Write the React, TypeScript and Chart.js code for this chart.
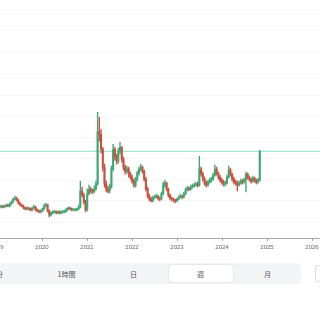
import React, { useEffect, useRef } from "react";
import { Chart, registerables } from "chart.js";

Chart.register(...registerables);

// Bi-weekly candle series (start position and spacing in fractional years)
const START_YEAR = 2019.089;
const STEP_YEARS = 14 / 365.25;
const FIRST_OPEN = 32;

const closes = [
  33, 32, 33, 34, 33, 35, 37, 40, 41, 39, 36, 34, 33, 31, 30, 31, 30, 29, 31, 32,
  29, 28, 27, 28, 30, 33, 34, 28, 24, 26, 27, 27, 26, 27, 26, 27, 27, 28, 30, 31,
  30, 29, 29, 29, 30, 32, 48, 44, 37, 29, 45, 50, 48, 47, 50, 55, 108, 105, 90, 72,
  55, 50, 48, 52, 70, 90, 82, 78, 88, 92, 80, 72, 68, 70, 65, 62, 58, 54, 60, 66,
  70, 72, 68, 60, 50, 43, 40, 38, 41, 42, 43, 41, 40, 45, 54, 56, 50, 44, 41, 40,
  39, 38, 40, 42, 43, 42, 45, 49, 51, 50, 52, 53, 54, 55, 54, 70, 65, 60, 56, 54,
  57, 59, 60, 64, 70, 66, 62, 59, 57, 55, 56, 62, 69, 65, 60, 57, 56, 54, 56, 58,
  57, 59, 65, 62, 60, 58, 61, 59, 57, 59, 88,
];

const highs = [
  34, 34, 34, 35, 35, 36, 38, 41, 43, 42, 40, 37, 35, 34, 32, 32, 32, 31, 32, 34,
  33, 30, 29, 29, 31, 35, 36, 35, 29, 27, 28, 28, 28, 28, 28, 28, 28, 29, 31, 32,
  32, 31, 30, 30, 31, 34, 58, 52, 46, 39, 50, 54, 52, 50, 53, 58, 127, 122, 110, 92,
  75, 58, 53, 55, 73, 95, 92, 85, 91, 97, 93, 82, 74, 73, 72, 67, 64, 60, 62, 68,
  72, 75, 73, 69, 62, 52, 45, 42, 43, 44, 45, 44, 42, 47, 57, 59, 57, 51, 45, 42,
  41, 40, 41, 43, 45, 44, 47, 51, 53, 52, 54, 55, 56, 57, 57, 83, 72, 67, 62, 58,
  59, 61, 62, 66, 74, 72, 67, 64, 61, 59, 58, 64, 73, 71, 66, 62, 59, 58, 58, 60,
  60, 61, 67, 66, 63, 61, 63, 62, 60, 61, 89,
];

const lows = [
  31, 31, 31, 32, 32, 32, 34, 36, 39, 38, 35, 33, 32, 30, 29, 29, 29, 28, 28, 30,
  28, 27, 26, 26, 27, 29, 32, 27, 22, 23, 25, 26, 25, 25, 25, 25, 26, 26, 27, 29,
  29, 28, 28, 28, 28, 29, 31, 42, 35, 27, 28, 44, 46, 45, 46, 49, 54, 98, 86, 68,
  52, 47, 46, 46, 51, 68, 79, 75, 76, 85, 77, 69, 65, 66, 62, 60, 56, 52, 52, 58,
  64, 68, 66, 58, 48, 41, 38, 37, 37, 40, 41, 39, 38, 39, 44, 52, 48, 42, 39, 38,
  37, 36, 37, 39, 41, 40, 41, 44, 48, 48, 49, 51, 52, 53, 52, 53, 63, 58, 54, 52,
  53, 56, 57, 59, 63, 64, 60, 57, 55, 53, 53, 55, 61, 63, 58, 55, 54, 48, 53, 55,
  55, 56, 47, 60, 58, 56, 57, 57, 55, 56, 58,
];

const alertLevel = 88;
const gridLevels = [16.5, 38, 59, 80.5, 102, 123, 144.5, 166, 187.5, 209, 230];
const yearTicks = [2019, 2020, 2021, 2022, 2023, 2024, 2025, 2026];
const X_MIN = 2018.622;
const X_MAX = 2026.622;
const Y_MIN = 0;
const Y_MAX = 240;

const periods = ["分", "1時間", "日", "週", "月"];
const selectedPeriod = "週";

const UP = "#3aa977";
const DOWN = "#c9503f";

function CandleChart() {
  const ref = useRef<HTMLCanvasElement | null>(null);
  useEffect(() => {
    if (!ref.current) return;
    const opens = closes.map((c, i) => (i === 0 ? FIRST_OPEN : closes[i - 1]));
    const xs = closes.map((_, i) => START_YEAR + i * STEP_YEARS);
    const colors = closes.map((c, i) => (c >= opens[i] ? UP : DOWN));
    const chart = new Chart(ref.current, {
      type: "bar",
      data: {
        datasets: [
          {
            type: "line",
            label: "alert",
            data: [
              { x: X_MIN, y: alertLevel },
              { x: X_MAX, y: alertLevel },
            ],
            borderColor: "#8adfc6",
            borderWidth: 1,
            pointRadius: 0,
            order: 3,
          } as any,
          {
            type: "bar",
            label: "wick",
            data: closes.map((_, i) => ({ x: xs[i], y: [lows[i], highs[i]] })),
            backgroundColor: colors,
            barThickness: 0.7,
            grouped: false,
            borderWidth: 0,
            order: 2,
          } as any,
          {
            type: "bar",
            label: "body",
            data: closes.map((c, i) => ({ x: xs[i], y: [opens[i], c] })),
            backgroundColor: colors,
            barThickness: 1.4,
            minBarLength: 1,
            grouped: false,
            borderWidth: 0,
            order: 1,
          } as any,
        ],
      },
      options: {
        animation: false,
        responsive: true,
        maintainAspectRatio: false,
        layout: { padding: 0 },
        plugins: { legend: { display: false }, tooltip: { enabled: false } },
        scales: {
          x: {
            type: "linear",
            min: X_MIN,
            max: X_MAX,
            offset: false,
            grid: {
              offset: false,
              drawOnChartArea: false,
              drawTicks: true,
              tickLength: 2,
              color: "#9a9a9a",
            },
            border: { display: true, color: "#a8a8a8", width: 1 },
            afterBuildTicks: (scale: any) => {
              scale.ticks = yearTicks.map((v) => ({ value: v }));
            },
            ticks: {
              autoSkip: false,
              maxRotation: 0,
              padding: 2.5,
              color: "#666",
              font: { size: 6, family: "Liberation Sans" },
              callback: (v: any) => String(v),
            },
          },
          y: {
            type: "linear",
            min: Y_MIN,
            max: Y_MAX,
            afterBuildTicks: (scale: any) => {
              scale.ticks = gridLevels.map((v) => ({ value: v }));
            },
            ticks: { display: false },
            grid: { drawTicks: false, color: "#f5f5f5", lineWidth: 1 },
            border: { display: false },
          },
        },
      },
    });
    return () => chart.destroy();
  }, []);
  return <canvas ref={ref} />;
}

export default function App() {
  const itemW = 67;
  return (
    <div
      style={{
        position: "absolute",
        left: 0,
        top: 0,
        width: 320,
        height: 320,
        overflow: "hidden",
        background: "#fff",
        fontFamily: "'Noto Sans CJK JP', 'Noto Sans', sans-serif",
      }}
    >
      <div style={{ position: "absolute", left: -20, top: 0, width: 360, height: 253 }}>
        <CandleChart />
      </div>
      <div
        style={{
          position: "absolute",
          left: -34,
          top: 263,
          width: itemW * periods.length,
          height: 21,
          background: "#f3f4f6",
          borderRadius: 3,
          display: "flex",
        }}
      >
        {periods.map((p) => (
          <div
            key={p}
            style={{
              width: itemW,
              height: 21,
              boxSizing: "border-box",
              padding: "2px 1.5px",
            }}
          >
            <div
              style={{
                width: "100%",
                height: "100%",
                display: "flex",
                alignItems: "center",
                justifyContent: "center",
                fontSize: 7,
                color: "#555",
                background: p === selectedPeriod ? "#fff" : "transparent",
                borderRadius: 3,
                boxShadow: p === selectedPeriod ? "0 0 1.5px rgba(0,0,0,0.25)" : "none",
              }}
            >
              {p}
            </div>
          </div>
        ))}
      </div>
      <div
        style={{
          position: "absolute",
          left: 315,
          top: 265,
          width: 24,
          height: 17,
          boxSizing: "border-box",
          border: "1px solid #dcdcdc",
          borderRadius: 3,
          background: "#fff",
        }}
      />
    </div>
  );
}
